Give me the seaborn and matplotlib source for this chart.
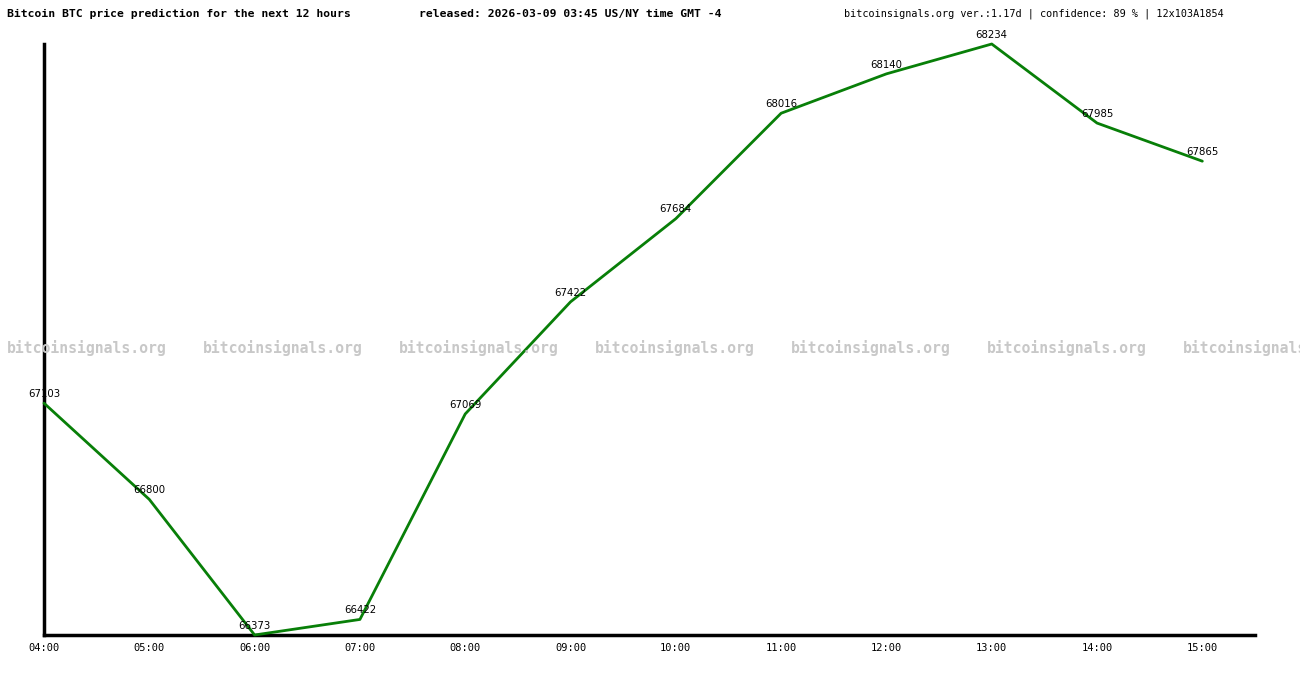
import matplotlib
matplotlib.use("Agg")
import matplotlib.pyplot as plt
import seaborn as sns
import pandas as pd

hours = ["04:00", "05:00", "06:00", "07:00", "08:00", "09:00",
         "10:00", "11:00", "12:00", "13:00", "14:00", "15:00"]
prices = [67103, 66800, 66373, 66422, 67069, 67422,
          67684, 68016, 68140, 68234, 67985, 67865]

title_left = "Bitcoin BTC price prediction for the next 12 hours"
title_mid = "released: 2026-03-09 03:45 US/NY time GMT -4"
title_right = "bitcoinsignals.org ver.:1.17d | confidence: 89 % | 12x103A1854"
watermark = "bitcoinsignals.org"

df = pd.DataFrame({"idx": range(len(hours)), "price": prices})

sns.set_style("white")
plt.rcParams["font.family"] = ["DejaVu Sans Mono", "DejaVu Sans"]
plt.rcParams["text.color"] = "black"
plt.rcParams["xtick.color"] = "black"

W, H = 1300, 680
fig = plt.figure(figsize=(W / 100, H / 100), dpi=100)
ax = fig.add_axes([44 / W, (H - 635) / H, (1255 - 44) / W, (635 - 44) / H])

# watermark row behind the chart
for i in range(7):
    fig.text((7 + 196 * i) / W, (H - 348) / H, watermark, color="#c8c8c8",
             fontsize=10.6, fontweight="bold", ha="left", va="center", zorder=0)

sns.lineplot(data=df, x="idx", y="price", color="#087f08", linewidth=2, ax=ax,
             clip_on=False, zorder=3)

for i, p in enumerate(prices):
    ax.annotate(str(p), (i, p), xytext=(0, 3), textcoords="offset points",
                ha="center", va="bottom", fontsize=7.3, family="DejaVu Sans",
                color="black", zorder=4, annotation_clip=False)

ax.set_xlim(0, 11.5)
ax.set_ylim(min(prices), max(prices))
ax.set_xticks(range(len(hours)))
ax.set_xticklabels(hours, fontsize=7.5)
ax.set_yticks([])
ax.tick_params(axis="x", length=0, pad=6)
ax.set_xlabel("")
ax.set_ylabel("")
ax.patch.set_alpha(0)
for s in ["top", "right"]:
    ax.spines[s].set_visible(False)
for s in ["left", "bottom"]:
    ax.spines[s].set_linewidth(2.5)
    ax.spines[s].set_color("black")

fig.text(7 / W, (H - 14) / H, title_left, fontsize=8.2, fontweight="bold",
         ha="left", va="center")
fig.text(419 / W, (H - 14) / H, title_mid, fontsize=8.2, fontweight="bold",
         ha="left", va="center")
fig.text(844 / W, (H - 14) / H, title_right, fontsize=7.3,
         ha="left", va="center")

fig.savefig("out.png", dpi=100)
